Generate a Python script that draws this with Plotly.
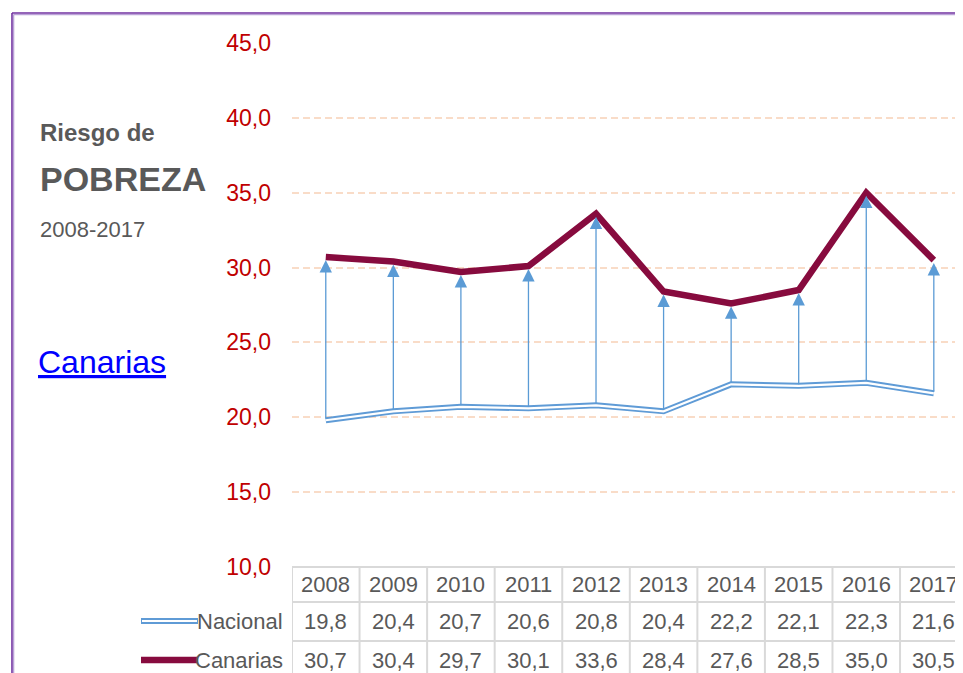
import plotly.graph_objects as go

years = ["2008", "2009", "2010", "2011", "2012", "2013", "2014", "2015", "2016", "2017"]
nacional = [19.8, 20.4, 20.7, 20.6, 20.8, 20.4, 22.2, 22.1, 22.3, 21.6]
canarias = [30.7, 30.4, 29.7, 30.1, 33.6, 28.4, 27.6, 28.5, 35.0, 30.5]
y_ticks = [10, 15, 20, 25, 30, 35, 40, 45]
y_tick_text = ["10,0", "15,0", "20,0", "25,0", "30,0", "35,0", "40,0", "45,0"]

def fmt(v):
    return f"{v:.1f}".replace(".", ",")

OFF = 8  # default page body margin
W, H = 963 - OFF, 673 - OFF
L, R, T = 292 - OFF, 0, 43 - OFF
B = H - (567 - OFF)
PW, PH = W - L - R, H - T - B

def px(x):  # page pixel x -> paper
    return (x - OFF - L) / PW

def py(y):  # page pixel y -> paper
    return (H - B - (y - OFF)) / PH

idx = list(range(len(years)))
x_step = 67.56
x_range = [-0.5, -0.5 + PW / x_step]

def dx(xp):
    return -0.5 + (xp - OFF - L) / x_step

FONT = "Liberation Sans, Arial, sans-serif"
GRAY = "#595959"
BLUE = "#5b9bd5"
NAC_BLUE = "#5f9bd6"
MAROON = "#870b3e"
GRID = "#f9dcc8"
TABLE = "#d9d9d9"

fig = go.Figure()

fig.add_trace(go.Scatter(x=idx, y=nacional, mode="lines", line=dict(color=NAC_BLUE, width=6),
                         hoverinfo="skip", showlegend=False))
fig.add_trace(go.Scatter(x=idx, y=nacional, mode="lines", line=dict(color="white", width=2.2),
                         name="Nacional", showlegend=False))
fig.add_trace(go.Scatter(x=idx, y=canarias, mode="lines", line=dict(color=MAROON, width=6.5),
                         name="Canarias", showlegend=False))

annotations = []
for i, (n, c) in enumerate(zip(nacional, canarias)):
    annotations.append(dict(x=i, y=c, ax=i, ay=n, xref="x", yref="y", axref="x", ayref="y",
                            showarrow=True, arrowhead=2, arrowsize=1.9, arrowwidth=1.3,
                            arrowcolor=BLUE, standoff=3, text=""))

TF = dict(family=FONT, size=22, color=GRAY)
for i, yr in enumerate(years):
    annotations.append(dict(x=i, y=py(584), xref="x", yref="paper", text=yr, showarrow=False,
                            xanchor="center", yanchor="middle", font=TF))
    annotations.append(dict(x=i, y=py(621), xref="x", yref="paper", text=fmt(nacional[i]), showarrow=False,
                            xanchor="center", yanchor="middle", font=TF))
    annotations.append(dict(x=i, y=py(660), xref="x", yref="paper", text=fmt(canarias[i]), showarrow=False,
                            xanchor="center", yanchor="middle", font=TF))

for label, yy in [("Nacional", 621), ("Canarias", 660)]:
    annotations.append(dict(x=px(285), y=py(yy), xref="paper", yref="paper", text=label,
                            showarrow=False, xanchor="right", yanchor="middle", font=TF))

annotations += [
    dict(x=px(38), y=py(132), xref="paper", yref="paper", text="<b>Riesgo de</b>", showarrow=False,
         xanchor="left", yanchor="middle", font=dict(family=FONT, size=24, color=GRAY)),
    dict(x=px(38), y=py(179), xref="paper", yref="paper", text="<b>POBREZA</b>", showarrow=False,
         xanchor="left", yanchor="middle", font=dict(family=FONT, size=34, color=GRAY)),
    dict(x=px(38), y=py(229), xref="paper", yref="paper", text="2008-2017", showarrow=False,
         xanchor="left", yanchor="middle", font=dict(family=FONT, size=22, color=GRAY)),
    dict(x=px(36), y=py(362), xref="paper", yref="paper", text="<u>Canarias</u>", showarrow=False,
         xanchor="left", yanchor="middle", font=dict(family=FONT, size=32, color="#0000ff")),
]

shapes = []
for k in range(len(years) + 1):
    shapes.append(dict(type="line", xref="x", yref="paper", x0=k - 0.5, x1=k - 0.5,
                       y0=py(567), y1=py(680), line=dict(color=TABLE, width=2)))
shapes.append(dict(type="line", xref="x", yref="paper", x0=dx(135), x1=dx(135),
                   y0=py(602), y1=py(680), line=dict(color=TABLE, width=2)))
shapes.append(dict(type="line", xref="x", yref="paper", x0=-0.5, x1=x_range[1],
                   y0=py(567), y1=py(567), line=dict(color=TABLE, width=2)))
for yy in (602, 641):
    shapes.append(dict(type="line", xref="x", yref="paper", x0=dx(135), x1=x_range[1],
                       y0=py(yy), y1=py(yy), line=dict(color=TABLE, width=2)))
shapes.append(dict(type="line", xref="paper", yref="paper", x0=px(141), x1=px(198), y0=py(621), y1=py(621),
                   line=dict(color=NAC_BLUE, width=6)))
shapes.append(dict(type="line", xref="paper", yref="paper", x0=px(142), x1=px(197), y0=py(621), y1=py(621),
                   line=dict(color="white", width=2.2)))
shapes.append(dict(type="line", xref="paper", yref="paper", x0=px(141), x1=px(198), y0=py(660), y1=py(660),
                   line=dict(color=MAROON, width=6.5)))
# purple frame
shapes.append(dict(type="line", xref="paper", yref="paper", x0=px(12), x1=px(970), y0=py(13), y1=py(13),
                   line=dict(color="#7030a0", width=1.6)))
shapes.append(dict(type="line", xref="paper", yref="paper", x0=px(13.5), x1=px(970), y0=py(14.6), y1=py(14.6),
                   line=dict(color="#bba3d8", width=1.4)))
shapes.append(dict(type="line", xref="paper", yref="paper", x0=px(12), x1=px(12), y0=py(13), y1=py(680),
                   line=dict(color="#7030a0", width=1.6)))
shapes.append(dict(type="line", xref="paper", yref="paper", x0=px(13.6), x1=px(13.6), y0=py(14.6), y1=py(680),
                   line=dict(color="#bba3d8", width=1.4)))

fig.update_layout(
    width=W, height=H, autosize=False,
    margin=dict(l=L, r=R, t=T, b=B),
    paper_bgcolor="white", plot_bgcolor="white",
    showlegend=False,
    xaxis=dict(range=x_range, showticklabels=False, showgrid=False, zeroline=False, showline=False,
               fixedrange=True),
    yaxis=dict(range=[10, 45], tickvals=y_ticks, ticktext=y_tick_text, showgrid=True,
               gridcolor=GRID, gridwidth=2, griddash="7px,4px", zeroline=False, showline=False,
               ticks="", ticklabelstandoff=20,
               tickfont=dict(family=FONT, size=23, color="#c00000"), fixedrange=True),
    annotations=annotations,
    shapes=shapes,
)

fig.write_html("out.html")
